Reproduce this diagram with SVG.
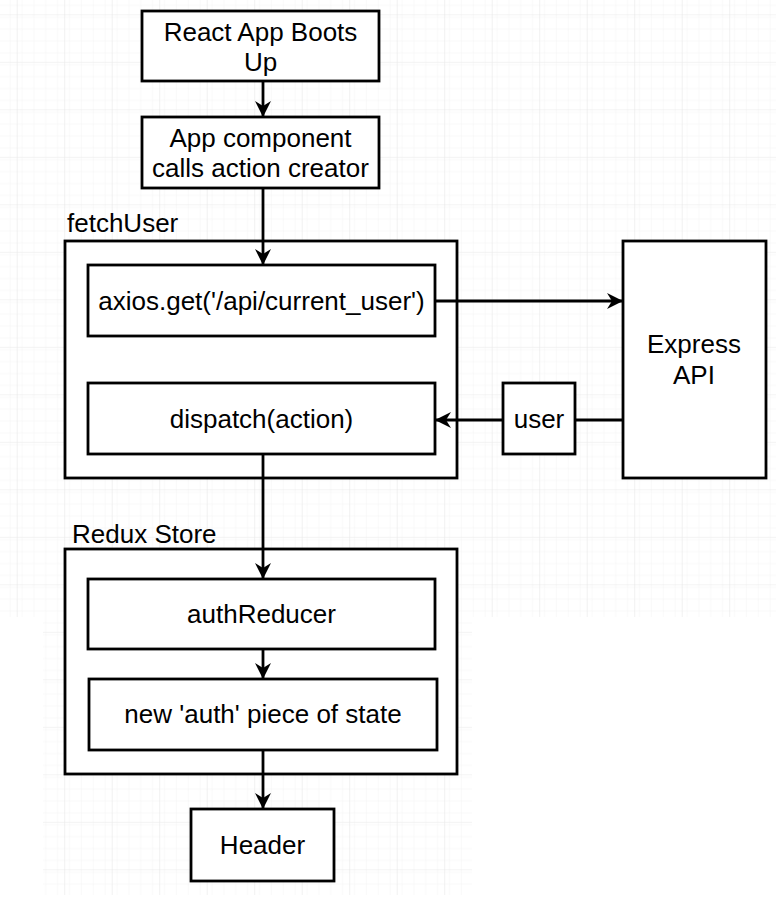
<svg xmlns="http://www.w3.org/2000/svg" width="776" height="906" viewBox="0 0 776 906">
<defs>
<pattern id="minor" patternUnits="userSpaceOnUse" x="16.7" y="14.3" width="11.875" height="11.875">
<path d="M0,0 H11.875 M0,0 V11.875" stroke="#f3f3f3" stroke-width="1" fill="none"/>
</pattern>
<pattern id="grid" patternUnits="userSpaceOnUse" x="16.7" y="14.3" width="47.5" height="47.5">
<rect width="47.5" height="47.5" fill="url(#minor)"/>
<path d="M0,0 H47.5 M0,0 V47.5" stroke="#e8e8e8" stroke-width="1.2" fill="none"/>
</pattern>
<marker id="arr" markerUnits="userSpaceOnUse" markerWidth="18" markerHeight="16" refX="16" refY="8" orient="auto">
<path d="M0,0 L16,8 L0,16 L5,8 Z" fill="#000"/>
</marker>
<style>
.box{fill:#fff;stroke:#000;stroke-width:2.8}
.t{font-family:"Liberation Sans",Arial,Helvetica,sans-serif;font-size:26px;fill:#000;text-anchor:middle}
.lbl{font-family:"Liberation Sans",Arial,Helvetica,sans-serif;font-size:26px;fill:#000}
.c{fill:none;stroke:#000;stroke-width:2.8}
</style>
</defs>
<rect width="776" height="906" fill="#fff"/>
<rect x="0" y="0" width="776" height="617" fill="url(#grid)"/>
<rect x="43" y="617" width="429" height="278" fill="url(#grid)"/>

<g id="fetchUser">
<rect class="box" x="65" y="241" width="392" height="237"/>
<text class="lbl" x="67" y="232">fetchUser</text>
</g>
<g id="reduxStore">
<rect class="box" x="65" y="549" width="392" height="225"/>
<text class="lbl" x="72" y="543">Redux Store</text>
</g>

<g id="connectors">
<path class="c" d="M263,81 V117" marker-end="url(#arr)"/>
<path class="c" d="M263,188 V265" marker-end="url(#arr)"/>
<path class="c" d="M435,301 H623" marker-end="url(#arr)"/>
<path class="c" d="M623,420 H575"/>
<path class="c" d="M503,420 H435" marker-end="url(#arr)"/>
<path class="c" d="M263,454 V579" marker-end="url(#arr)"/>
<path class="c" d="M263,649 V679" marker-end="url(#arr)"/>
<path class="c" d="M263,750 V809" marker-end="url(#arr)"/>
</g>

<g id="reactBoots">
<rect class="box" x="142" y="11" width="237" height="70"/>
<text class="t" x="260.5" y="41">React App Boots</text>
<text class="t" x="260.5" y="71">Up</text>
</g>
<g id="appComponent">
<rect class="box" x="142" y="117" width="237" height="71"/>
<text class="t" x="260.5" y="147">App component</text>
<text class="t" x="260.5" y="177">calls action creator</text>
</g>
<g id="axios">
<rect class="box" x="88" y="265" width="347" height="71"/>
<text class="t" x="261.5" y="310">axios.get('/api/current_user')</text>
</g>
<g id="dispatch">
<rect class="box" x="88" y="383" width="347" height="71"/>
<text class="t" x="261.5" y="428">dispatch(action)</text>
</g>
<g id="express">
<rect class="box" x="623" y="241" width="143" height="237"/>
<text class="t" x="694" y="353">Express</text>
<text class="t" x="694" y="384">API</text>
</g>
<g id="user">
<rect class="box" x="503" y="383" width="72" height="71"/>
<text class="t" x="539" y="428">user</text>
</g>
<g id="authReducer">
<rect class="box" x="88" y="579" width="347" height="70"/>
<text class="t" x="261.5" y="623">authReducer</text>
</g>
<g id="newAuth">
<rect class="box" x="89" y="679" width="348" height="71"/>
<text class="t" x="263" y="723">new 'auth' piece of state</text>
</g>
<g id="header">
<rect class="box" x="191" y="809" width="143" height="72"/>
<text class="t" x="262.5" y="854">Header</text>
</g>
</svg>
